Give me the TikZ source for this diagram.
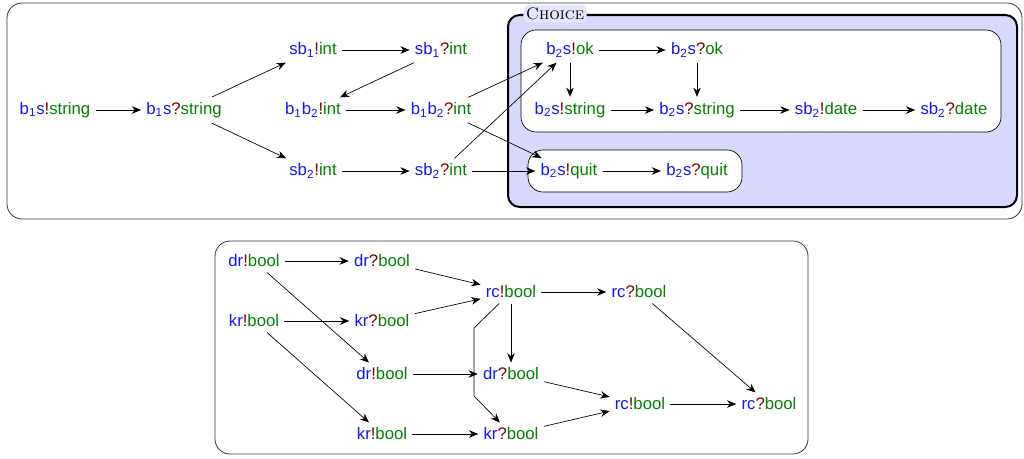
\documentclass[tikz,border=0pt]{standalone}
\usepackage{fontspec}
\setsansfont{Liberation Sans}
\usepackage{tikz}
\usetikzlibrary{arrows.meta, positioning, calc}
\definecolor{ptcpblue}{RGB}{20, 20, 250}
\definecolor{actred}{RGB}{125, 0, 0}
\definecolor{sortgreen}{RGB}{0, 130, 0}
\definecolor{choicefill}{RGB}{216, 216, 252}
\definecolor{framegray}{RGB}{60, 60, 60}
\newcommand{\ix}[1]{\textsubscript{#1}}
\newcommand{\sendev}[2]{\textcolor{ptcpblue}{#1}\textcolor{actred}{!}\textcolor{sortgreen}{#2}}
\newcommand{\recvev}[2]{\textcolor{ptcpblue}{#1}\textcolor{actred}{?}\textcolor{sortgreen}{#2}}

\begin{document}
\begin{tikzpicture}[x=0.021cm, y=-0.021cm,
  ev/.style={font=\sffamily, inner sep=3pt},
  flow/.style={-{Stealth[length=5.5pt, width=4.5pt]}},
  frame/.style={draw=framegray, line width=0.5pt, rounded corners=9pt}]
  \useasboundingbox (0,0) rectangle (1024,458);

  % Frames
  \draw[frame] (7,3) rectangle (1022,219);
  \draw[frame] (215,241) rectangle (808,454);

  % Choice block
  \draw[very thick, fill=choicefill, rounded corners=7pt] (508,15) rectangle (1017,207);
  \draw[fill=white, rounded corners=9pt] (521,30) rectangle (1001,132);
  \draw[fill=white, rounded corners=9pt] (528,150) rectangle (742,192);
  \node[fill=choicefill!70, rounded corners=3pt, inner sep=1.5pt, anchor=west] (choicelbl) at (523,14) {\textsc{Choice}};

  % Top events
  \node[ev] (bsout) at (55,110) {\sendev{b\ix{1}s}{string}};
  \node[ev] (bsin) at (184,110) {\recvev{b\ix{1}s}{string}};
  \node[ev] (sbaout) at (313,50) {\sendev{sb\ix{1}}{int}};
  \node[ev] (sbain) at (441,50) {\recvev{sb\ix{1}}{int}};
  \node[ev] (bbout) at (313,110) {\sendev{b\ix{1}b\ix{2}}{int}};
  \node[ev] (bbin) at (441,110) {\recvev{b\ix{1}b\ix{2}}{int}};
  \node[ev] (sbbout) at (313,171) {\sendev{sb\ix{2}}{int}};
  \node[ev] (sbbin) at (441,171) {\recvev{sb\ix{2}}{int}};

  % Branches
  \node[ev] (okout) at (570,50) {\sendev{b\ix{2}s}{ok}};
  \node[ev] (okin) at (697,50) {\recvev{b\ix{2}s}{ok}};
  \node[ev] (strout) at (570,110) {\sendev{b\ix{2}s}{string}};
  \node[ev] (strin) at (697,110) {\recvev{b\ix{2}s}{string}};
  \node[ev] (dateout) at (826,110) {\sendev{sb\ix{2}}{date}};
  \node[ev] (datein) at (954,110) {\recvev{sb\ix{2}}{date}};
  \node[ev] (quitout) at (569,171) {\sendev{b\ix{2}s}{quit}};
  \node[ev] (quitin) at (697,171) {\recvev{b\ix{2}s}{quit}};

  % Top edges
  \draw[flow] (bsout) -- (bsin);
  \draw[flow] (bsin) -- (sbaout);
  \draw[flow] (bsin) -- (sbbout);
  \draw[flow] (sbaout) -- (sbain);
  \draw[flow] (sbain) -- (bbout);
  \draw[flow] (bbout) -- (bbin);
  \draw[flow] (sbbout) -- (sbbin);
  \draw[flow] (bbin) -- (okout);
  \draw[flow] (sbbin) -- (okout);
  \draw[flow] (bbin) -- (quitout);
  \draw[flow] (sbbin) -- (quitout);
  \draw[flow] (okout) -- (okin);
  \draw[flow] (okout) -- (strout);
  \draw[flow] (okin) -- (strin);
  \draw[flow] (strout) -- (strin);
  \draw[flow] (strin) -- (dateout);
  \draw[flow] (dateout) -- (datein);
  \draw[flow] (quitout) -- (quitin);

  % Bottom events
  \node[ev] (dra) at (254,261) {\sendev{dr}{bool}};
  \node[ev] (drb) at (382,261) {\recvev{dr}{bool}};
  \node[ev] (kra) at (254,321) {\sendev{kr}{bool}};
  \node[ev] (krb) at (382,321) {\recvev{kr}{bool}};
  \node[ev] (rca) at (511,292) {\sendev{rc}{bool}};
  \node[ev] (rcb) at (639,292) {\recvev{rc}{bool}};
  \node[ev] (drc) at (382,374) {\sendev{dr}{bool}};
  \node[ev] (drd) at (511,374) {\recvev{dr}{bool}};
  \node[ev] (krc) at (382,434) {\sendev{kr}{bool}};
  \node[ev] (krd) at (511,434) {\recvev{kr}{bool}};
  \node[ev] (rcc) at (640,404) {\sendev{rc}{bool}};
  \node[ev] (rcd) at (769,404) {\recvev{rc}{bool}};
  \coordinate (bendtop) at (474,328);
  \coordinate (bendbot) at (474,396);

  % Bottom edges
  \draw[flow] (dra) -- (drb);
  \draw[flow] (dra) -- (drc);
  \draw[flow] (kra) -- (krb);
  \draw[flow] (kra) -- (krc);
  \draw[flow] (drb) -- (rca);
  \draw[flow] (krb) -- (rca);
  \draw[flow] (rca) -- (rcb);
  \draw[flow] (rca) -- (drd);
  \draw[flow] (rca) -- (bendtop) -- (bendbot) -- (krd);
  \draw[flow] (drc) -- (drd);
  \draw[flow] (krc) -- (krd);
  \draw[flow] (drd) -- (rcc);
  \draw[flow] (krd) -- (rcc);
  \draw[flow] (rcb) -- (rcd);
  \draw[flow] (rcc) -- (rcd);
\end{tikzpicture}
\end{document}
